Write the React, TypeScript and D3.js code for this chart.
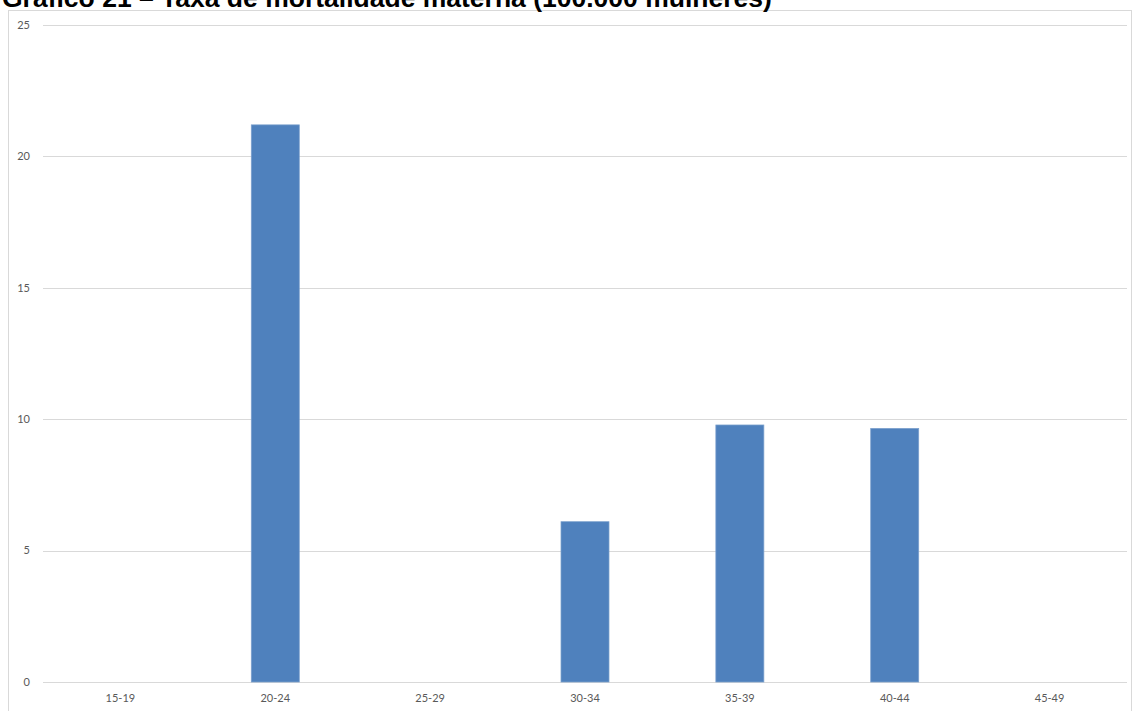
import React, { useRef, useEffect } from 'react';
import * as d3 from 'd3';

const categories = ['15-19', '20-24', '25-29', '30-34', '35-39', '40-44', '45-49'];
const values = [0, 21.2, 0, 6.1, 9.78, 9.65, 0];
const yTicks = [0, 5, 10, 15, 20, 25];
const title = 'Gráfico 21 – Taxa de mortalidade materna (100.000 mulheres)';

const W = 1132;
const H = 711;

const App: React.FC = () => {
  const svgRef = useRef<SVGSVGElement | null>(null);

  useEffect(() => {
    const svg = d3.select(svgRef.current);
    svg.selectAll('*').remove();

    const margin = { top: 25, right: 5, bottom: 29, left: 43 };
    const innerWidth = W - margin.left - margin.right;
    const innerHeight = H - margin.top - margin.bottom;

    // chart frame
    svg.append('rect')
      .attr('x', 8.5).attr('y', 10.5)
      .attr('width', W - 9).attr('height', H + 10)
      .attr('fill', '#fff').attr('stroke', '#d9d9d9');

    // title (cropped at top in the original)
    svg.append('text')
      .attr('x', 2).attr('y', 6.5)
      .attr('font-family', 'Liberation Sans, Arial, sans-serif')
      .attr('font-weight', 'bold')
      .attr('font-size', 26.5)
      .attr('fill', '#000')
      .text(title);

    const x = d3.scaleBand().domain(categories).range([0, innerWidth]).paddingInner(0.69).paddingOuter(0.345);
    const xc = d3.scaleBand().domain(categories).range([0, innerWidth]);
    const y = d3.scaleLinear().domain([0, 25]).range([innerHeight, 0]);

    const g = svg.append('g').attr('transform', `translate(${margin.left},${margin.top})`);

    g.selectAll('.grid')
      .data(yTicks)
      .enter()
      .append('line')
      .attr('x1', 0).attr('x2', innerWidth)
      .attr('y1', d => Math.round(y(d)) + 0.5).attr('y2', d => Math.round(y(d)) + 0.5)
      .attr('stroke', '#d9d9d9');

    g.selectAll('.ylabel')
      .data(yTicks)
      .enter()
      .append('text')
      .attr('x', -13).attr('y', d => y(d))
      .attr('dy', '0.35em')
      .attr('text-anchor', 'end')
      .attr('font-family', 'Lato, Carlito, Calibri, sans-serif')
      .attr('font-size', 11)
      .attr('fill', '#595959')
      .text(d => String(d));

    g.selectAll('.bar')
      .data(categories.map((c, i) => ({ c, v: values[i] })).filter(d => d.v > 0))
      .enter()
      .append('rect')
      .attr('x', d => x(d.c)!)
      .attr('y', d => y(d.v))
      .attr('width', x.bandwidth())
      .attr('height', d => innerHeight - y(d.v))
      .attr('fill', '#4f81bd')
      .attr('stroke', '#7ba0cd')
      .attr('stroke-width', 0.75);

    g.selectAll('.xlabel')
      .data(categories)
      .enter()
      .append('text')
      .attr('x', d => xc(d)! + xc.bandwidth() / 2)
      .attr('y', innerHeight + 16)
      .attr('dy', '0.35em')
      .attr('text-anchor', 'middle')
      .attr('font-family', 'Lato, Carlito, Calibri, sans-serif')
      .attr('font-size', 11)
      .attr('fill', '#595959')
      .text(d => d);
  }, []);

  return (
    <svg ref={svgRef} width={W} height={H} style={{ position: 'absolute', left: 0, top: 0, background: '#fff' }} />
  );
};

export default App;
